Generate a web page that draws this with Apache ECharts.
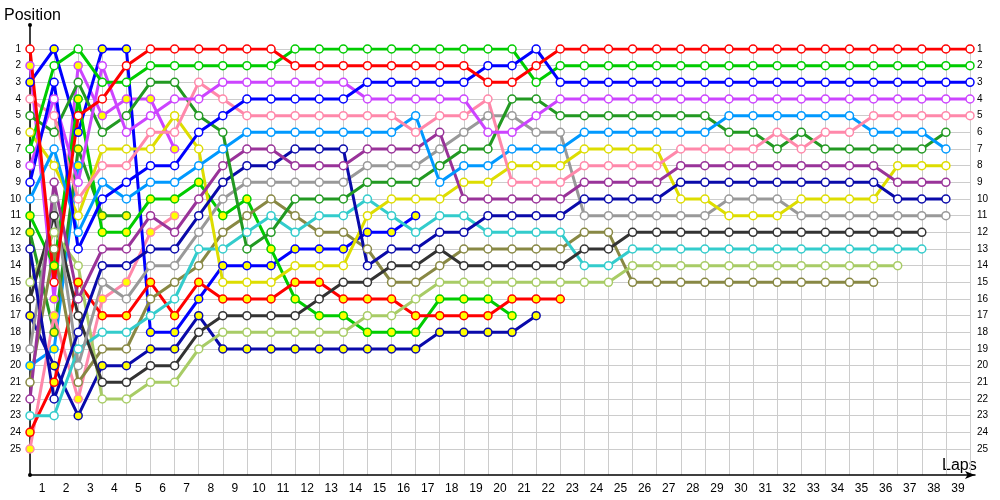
<!DOCTYPE html>
<html>
<head>
<meta charset="utf-8">
<script src="https://cdn.jsdelivr.net/npm/echarts@6/dist/echarts.min.js"></script>
<style>html,body{margin:0;padding:0;background:#fff}#c{width:1000px;height:500px}</style>
</head>
<body>
<div id="c"></div>
<script>
// Lap labels shown under the chart
const lapLabels = ['1','2','3','4','5','6','7','8','9','10','11','12','13','14','15','16','17','18','19','20',
  '21','22','23','24','25','26','27','28','29','30','31','32','33','34','35','36','37','38','39'];
const positionTicks = [1,2,3,4,5,6,7,8,9,10,11,12,13,14,15,16,17,18,19,20,21,22,23,24,25];

// Position per lap (index = lap 0..39); null = not running
const redW       = [1,15,5,4,2, 1,1,1,1,1, 1,2,2,2,2, 2,2,2,2,3, 3,2,1,1,1, 1,1,1,1,1, 1,1,1,1,1, 1,1,1,1,1];
const greenW     = [7,2,1,3,3, 2,2,2,2,2, 2,1,1,1,1, 1,1,1,1,1, 1,3,2,2,2, 2,2,2,2,2, 2,2,2,2,2, 2,2,2,2,2];
const blueW      = [9,3,13,10,9, 8,8,6,5,4, 4,4,4,4,3, 3,3,3,3,2, 2,1,3,3,3, 3,3,3,3,3, 3,3,3,3,3, 3,3,3,3,3];
const violetW    = [8,4,9,2,6, 5,4,4,3,3, 3,3,3,3,4, 4,4,4,4,6, 6,5,4,4,4, 4,4,4,4,4, 4,4,4,4,4, 4,4,4,4,4];
const pinkW      = [4,5,10,8,8, 6,6,3,4,5, 5,5,5,5,5, 5,6,5,5,4, 9,9,9,8,8, 8,8,7,7,7, 7,6,7,6,6, 5,5,5,5,5];
const lightBlueW = [10,7,12,9,10, 9,9,8,7,6, 6,6,6,6,6, 6,5,9,8,8, 7,7,7,6,6, 6,6,6,6,5, 5,5,5,5,5, 6,6,6,7,null];
const dkGreenW   = [5,6,3,6,5, 3,3,5,6,13, 12,10,10,10,9, 9,9,8,7,7, 4,4,5,5,5, 5,5,5,5,6, 6,7,6,7,7, 7,7,7,6,null];
const purpleW    = [22,9,16,13,13, 11,12,10,8,7, 7,8,8,8,7, 7,7,6,10,10, 10,10,10,9,9, 9,9,8,8,8, 8,8,8,8,8, 8,9,9,9,null];
const dkBlueW    = [13,22,18,14,14, 13,13,11,9,8, 8,7,7,7,14, 13,13,12,12,11, 11,11,11,10,10, 10,10,9,9,9, 9,9,9,9,9, 9,10,10,10,null];
const grayW      = [19,10,20,15,16, 14,14,12,10,9, 9,9,9,9,8, 8,8,7,6,5, 5,6,6,11,11, 11,11,11,11,10, 10,10,11,11,11, 11,11,11,11,null];
const yellowW    = [6,8,11,7,7, 7,5,7,15,15, 15,14,14,14,11, 10,10,10,9,9, 8,8,8,7,7, 7,7,10,10,11, 11,11,10,10,10, 10,8,8,8,null];
const tealW      = [23,23,19,18,18, 17,16,13,13,12, 11,12,11,11,10, 11,12,11,11,12, 12,12,12,14,14, 13,13,13,13,13, 13,13,13,13,13, 13,13,13,null,null];
const blackW     = [16,11,17,21,21, 20,20,18,17,17, 17,17,16,15,15, 14,14,13,14,14, 14,14,14,13,13, 12,12,12,12,12, 12,12,12,12,12, 12,12,12,null,null];
const lightGreenW= [15,12,14,22,22, 21,21,19,18,18, 18,18,18,18,17, 17,16,15,15,15, 15,15,15,15,15, 14,14,14,14,14, 14,14,14,14,14, 14,14,null,null,null];
const oliveW     = [21,13,21,19,19, 16,15,14,12,11, 10,11,12,12,13, 15,15,14,13,13, 13,13,13,12,12, 15,15,15,15,15, 15,15,15,15,15, 15,null,null,null,null];
const redY       = [24,21,15,17,17, 15,17,15,16,16, 16,15,15,16,16, 16,17,17,17,17, 16,16,16];
const greenY     = [11,14,4,12,12, 10,10,9,11,10, 13,16,17,17,18, 18,18,16,16,16, 17];
const blueY      = [3,1,6,1,1, 18,18,16,14,14, 14,13,13,13,12, 12,11];
const violetY    = [2,16,2,5,4, 4,7];
const pinkY      = [25,17,22,16,15, 12,11];
const dkBlueY    = [17,20,23,20,20, 19,19,17,19,19, 19,19,19,19,19, 19,19,18,18,18, 18,17];
const dkGreenY   = [12,18,7,11,11];
const lightBlueY = [20,19,8];

const cars = [
  {d: lightBlueY, c:'#0099ff', f:'#ffff00'},
  {d: dkGreenY,   c:'#229922', f:'#ffff00'},
  {d: pinkY,      c:'#ff88aa', f:'#ffff00'},
  {d: violetY,    c:'#cc44ff', f:'#ffff00'},
  {d: blueY,      c:'#0000ff', f:'#ffff00'},
  {d: greenY,     c:'#00cc00', f:'#ffff00'},
  {d: dkBlueY,    c:'#0a0aaa', f:'#ffff00'},
  {d: redY,       c:'#ff0000', f:'#ffff00'},
  {d: oliveW,     c:'#888844', f:'#ffffff'},
  {d: lightGreenW,c:'#a8cc66', f:'#ffffff'},
  {d: tealW,      c:'#33cccc', f:'#ffffff'},
  {d: blackW,     c:'#333333', f:'#ffffff'},
  {d: grayW,      c:'#999999', f:'#ffffff'},
  {d: yellowW,    c:'#dddd00', f:'#ffffff'},
  {d: dkBlueW,    c:'#0a0aaa', f:'#ffffff'},
  {d: purpleW,    c:'#993399', f:'#ffffff'},
  {d: dkGreenW,   c:'#229922', f:'#ffffff'},
  {d: lightBlueW, c:'#0099ff', f:'#ffffff'},
  {d: pinkW,      c:'#ff88aa', f:'#ffffff'},
  {d: violetW,    c:'#cc44ff', f:'#ffffff'},
  {d: greenW,     c:'#00cc00', f:'#ffffff'},
  {d: blueW,      c:'#0000ff', f:'#ffffff'},
  {d: redW,       c:'#ff0000', f:'#ffffff'}
];

const FONT = 'Liberation Sans, Arial, sans-serif';
const chart = echarts.init(document.getElementById('c'), null, {renderer:'canvas'});

const series = cars.map(car => ({
  type: 'line',
  xAxisIndex: 0, yAxisIndex: 0,
  data: car.d.map((v, i) => [i, v]).filter(p => p[1] != null),
  symbol: 'circle', symbolSize: 8, showAllSymbol: true,
  lineStyle: {color: car.c, width: 3},
  itemStyle: {color: car.f, borderColor: car.c, borderWidth: 1.5},
  emphasis: {disabled: true},
  silent: true, animation: false
}));

chart.setOption({
  animation: false,
  grid: [
    {left: 30, right: 30, top: 49, bottom: 51},
    {left: 30, right: 30, top: 49, bottom: 25},
    {left: 30, right: 25, top: 25, bottom: 25}
  ],
  xAxis: [
    {gridIndex: 0, type: 'value', min: 0, max: 39, show: false},
    {gridIndex: 1, type: 'category', data: lapLabels, boundaryGap: true,
     axisLine: {show: false}, axisTick: {show: false},
     splitLine: {show: true, interval: 0, lineStyle: {color: '#cccccc', width: 1}},
     axisLabel: {interval: 0, fontSize: 12, color: '#000', margin: 8, fontFamily: FONT}},
    {gridIndex: 2, type: 'value', min: 0, max: 1,
     axisLine: {show: true, symbol: ['none', 'arrow'], symbolSize: [6, 10], lineStyle: {color: '#000', width: 1.5}},
     axisTick: {show: false}, axisLabel: {show: false}, splitLine: {show: false}}
  ],
  yAxis: [
    {gridIndex: 0, type: 'value', inverse: true, min: 1, max: 25, interval: 1,
     axisLine: {show: false}, axisTick: {show: false},
     splitLine: {show: true, lineStyle: {color: '#cccccc', width: 1}},
     axisLabel: {fontSize: 10, color: '#000', margin: 9, fontFamily: FONT,
       formatter: v => positionTicks.includes(v) ? String(v) : ''}},
    {gridIndex: 0, type: 'value', inverse: true, min: 1, max: 25, interval: 1, position: 'right',
     axisLine: {show: false}, axisTick: {show: false}, splitLine: {show: false},
     axisLabel: {fontSize: 10, color: '#000', margin: 7, fontFamily: FONT,
       formatter: v => positionTicks.includes(v) ? String(v) : ''}},
    {gridIndex: 1, type: 'value', show: false},
    {gridIndex: 2, type: 'value', min: 0, max: 1,
     axisLine: {show: true, symbol: ['circle', 'circle'], symbolSize: [4, 4], lineStyle: {color: '#000', width: 1.5}},
     axisTick: {show: false}, axisLabel: {show: false}, splitLine: {show: false}}
  ],
  graphic: [
    {type: 'text', left: 4, top: 8, style: {text: 'Position', fontSize: 16, fill: '#000', font: '16px ' + FONT}},
    {type: 'text', left: 942, top: 458, style: {text: 'Laps', fontSize: 16, fill: '#000', font: '16px ' + FONT}}
  ],
  series: series
});
</script>
</body>
</html>
